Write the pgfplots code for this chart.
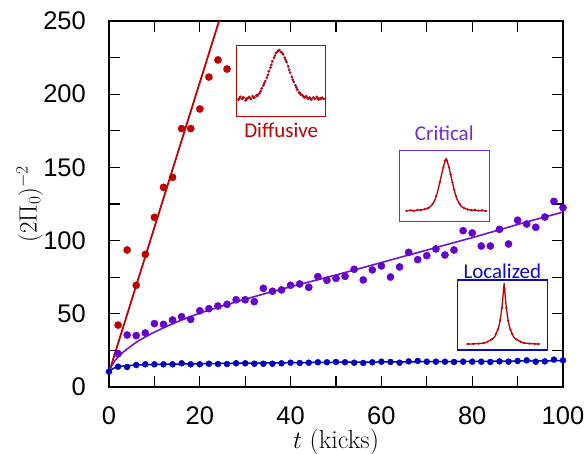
\documentclass[border=0pt]{standalone}
\usepackage{pgfplots}
\pgfplotsset{compat=1.18}
\usepackage{fontspec}
\newfontfamily\tickfont{Liberation Sans}
\newfontfamily\labfont{Carlito}
\definecolor{dred}{RGB}{192,0,0}
\definecolor{dpurp}{RGB}{102,0,204}
\definecolor{lpurp}{RGB}{110,20,210}
\definecolor{dblue}{RGB}{0,0,190}
\definecolor{boxpurp}{RGB}{120,40,210}
\definecolor{boxblue}{RGB}{10,10,200}
\definecolor{fitblue}{RGB}{150,160,230}
\begin{document}
\begin{tikzpicture}
\useasboundingbox (-109pt,-66pt) rectangle (476pt,387pt);
% main axis
\begin{axis}[at={(0pt,0pt)}, anchor=south west, scale only axis,
  width=454pt, height=366pt,
  xmin=0, xmax=100, ymin=0, ymax=250,
  xtick={0,10,...,100}, xticklabels={0,,20,,40,,60,,80,,100},
  ytick={0,25,...,250}, yticklabels={0,,50,,100,,150,,200,,250},
  tick align=inside, major tick length=11pt,
  tick style={black, line width=1.3pt},
  axis line style={line width=1.5pt},
  xticklabel style={font=\tickfont\fontsize{25.5}{28}\selectfont, inner sep=0pt, anchor=north, yshift=-19pt},
  yticklabel style={font=\tickfont\fontsize{25.5}{28}\selectfont, inner sep=0pt, anchor=east, xshift=-23pt},
  xlabel={$t$ (kicks)}, ylabel={$(2\Pi_0)^{-2}$},
  x label style={at={(axis description cs:0.5,0)}, anchor=north, inner sep=0pt, yshift=-42pt, font=\fontsize{26}{28}\selectfont},
  y label style={at={(axis description cs:-0.175,0.5)}, anchor=center, inner sep=0pt, font=\fontsize{27}{29}\selectfont},
]
\addplot[dred, line width=1.8pt] coordinates {(0,10) (26,267.4)};
\addplot[only marks, mark=*, mark size=3.6pt, color=dred] coordinates {
(2,42.3) (4,93.6) (6,69.5) (8,90.6) (10,115.9) (12,136.4) (14,143.2)
(16,176.5) (18,176.5) (20,189.9) (22,211.7) (24,223.4) (26,217.2)};
\addplot[lpurp, line width=1.6pt, line join=round] coordinates {
(0,10) (0.25,12.5) (0.5,14) (1,16.5) (1.5,18.7) (2,20.5) (3,23.5) (4,26) (5,28.3)
(6,30.5) (8,34.2) (10,37.5) (12,40.4) (15,44.5) (18,48.2) (20,50.5) (25,55.4)
(30,60) (35,64.3) (40,68.5) (45,72.5) (50,76.5) (55,80.8) (60,85) (65,89.3)
(70,93.5) (75,97.8) (80,102) (85,106.5) (90,111) (95,115.3) (100,119.5)};
\addplot[only marks, mark=*, mark size=3.6pt, color=dpurp] coordinates {
(2,22.8) (4,35.5) (6,35.1) (8,36.9) (10,43.3) (12,42.8) (14,45.8) (16,48.0)
(18,46.2) (20,52.1) (22,53.5) (24,55.3) (26,56.5) (28,59.6) (30,59.6) (32,58.3)
(34,67.4) (36,65.4) (38,66.3) (40,69.5) (42,70.4) (44,68.1) (46,75.4) (48,72.9)
(50,74.2) (52,75.6) (54,80.4) (56,73.1) (58,80.0) (60,82.7) (62,75.1) (64,82.0)
(66,92.0) (68,87.0) (70,89.7) (72,94.3) (74,90.2) (76,93.6) (78,106.8) (80,105.2)
(82,96.3) (84,96.3) (86,107.7) (88,97.7) (90,113.9) (92,111.3) (94,109.1)
(96,116.1) (98,126.8) (100,122.5)};
\addplot[dblue, line width=1.5pt, line join=round] coordinates {
(0,10.5) (0.5,11.8) (1,12.8) (1.5,13.4) (2,13.8) (3,14.3) (5,14.8) (7,15.1)
(10,15.4) (15,15.7) (20,15.9) (30,16.3) (40,16.6) (50,16.9) (60,17.1)
(70,17.3) (80,17.5) (90,17.75) (100,18.0)};
\addplot[only marks, mark=*, mark size=3.0pt, color=dblue] coordinates {
(0,10.5) (2,13.9) (4,13.7) (6,15.0) (8,15.5) (10,15.5) (12,15.5) (14,15.5) (16,16.2)
(18,15.5) (20,15.5) (22,15.9) (24,15.7) (26,15.7) (28,16.2) (30,16.2) (32,15.9)
(34,15.9) (36,15.9) (38,16.2) (40,16.6) (42,16.4) (44,16.6) (46,16.9) (48,16.9)
(50,17.1) (52,16.9) (54,16.6) (56,16.4) (58,16.9) (60,17.3) (62,17.1) (64,16.6)
(66,17.5) (68,17.8) (70,17.3) (72,17.3) (74,17.3) (76,17.1) (78,17.3) (80,17.3)
(82,17.3) (84,17.1) (86,17.5) (88,17.3) (90,17.8) (92,18.2) (94,17.3) (96,17.5)
(98,18.7) (100,18.2)};
\end{axis}
% Diffusive inset
\begin{axis}[at={(127.7pt,270.3pt)}, anchor=south west, scale only axis,
  width=89pt, height=71pt, xmin=0, xmax=1, ymin=0, ymax=1,
  xtick=\empty, ytick=\empty, clip=false,
  axis line style={draw=dred, line width=1.3pt}]
\addplot[fitblue, line width=1pt] coordinates {
(0.04,0.26) (0.08,0.261) (0.12,0.263) (0.16,0.27) (0.20,0.286) (0.24,0.322)
(0.28,0.388) (0.32,0.493) (0.36,0.629) (0.40,0.775) (0.44,0.887) (0.48,0.93)
(0.52,0.887) (0.56,0.775) (0.60,0.629) (0.64,0.493) (0.68,0.388) (0.72,0.322)
(0.76,0.286) (0.80,0.27) (0.84,0.263) (0.88,0.261) (0.92,0.26) (0.96,0.26)};
\addplot[only marks, mark=*, mark size=1.1pt, color=dred] coordinates {
(0.02,0.24) (0.04,0.28) (0.06,0.25) (0.08,0.27) (0.10,0.23) (0.12,0.26) (0.14,0.28)
(0.16,0.25) (0.18,0.29) (0.20,0.27) (0.22,0.30) (0.24,0.31) (0.26,0.33) (0.28,0.40)
(0.30,0.44) (0.32,0.50) (0.34,0.55) (0.36,0.64) (0.38,0.69) (0.40,0.78) (0.42,0.83)
(0.44,0.90) (0.46,0.92) (0.48,0.94) (0.50,0.91) (0.52,0.88) (0.54,0.83) (0.56,0.77)
(0.58,0.71) (0.60,0.62) (0.62,0.56) (0.64,0.49) (0.66,0.44) (0.68,0.38) (0.70,0.34)
(0.72,0.31) (0.74,0.30) (0.76,0.27) (0.78,0.29) (0.80,0.25) (0.82,0.27) (0.84,0.24)
(0.86,0.27) (0.88,0.25) (0.90,0.28) (0.92,0.24) (0.94,0.26) (0.96,0.27) (0.98,0.25)
(0.03,0.26) (0.07,0.27) (0.11,0.25) (0.15,0.26) (0.19,0.27) (0.23,0.29) (0.27,0.36)
(0.31,0.47) (0.35,0.59) (0.39,0.73) (0.43,0.86) (0.47,0.93) (0.51,0.90) (0.55,0.80)
(0.59,0.66) (0.63,0.52) (0.67,0.41) (0.71,0.33) (0.75,0.28) (0.79,0.27) (0.83,0.25)
(0.87,0.26) (0.91,0.26) (0.95,0.25)};
\node[font=\labfont\fontsize{21}{23}\selectfont, text=dred] at (rel axis cs:0.5,-0.19) {Diffusive};
\end{axis}
% Critical inset
\begin{axis}[at={(290.3pt,165.3pt)}, anchor=south west, scale only axis,
  width=90pt, height=71pt, xmin=0, xmax=1, ymin=0, ymax=1,
  xtick=\empty, ytick=\empty, clip=false,
  axis line style={draw=boxpurp, line width=1.3pt}]
\addplot[dred, line width=1.3pt, line join=round] coordinates {
(0.07,0.155) (0.10,0.157) (0.14,0.16) (0.18,0.158) (0.22,0.165) (0.26,0.17)
(0.30,0.18) (0.34,0.205) (0.36,0.23) (0.38,0.27) (0.40,0.32) (0.42,0.40)
(0.44,0.50) (0.46,0.61) (0.48,0.72) (0.50,0.82) (0.51,0.865) (0.52,0.89) (0.53,0.865) (0.54,0.82)
(0.56,0.72) (0.58,0.61) (0.60,0.50) (0.62,0.40) (0.64,0.32) (0.66,0.27)
(0.68,0.23) (0.70,0.205) (0.74,0.18) (0.78,0.168) (0.82,0.162) (0.86,0.16)
(0.90,0.157) (0.94,0.155) (0.97,0.155)};
\addplot[only marks, mark=*, mark size=0.9pt, color=dred] coordinates {
(0.08,0.15) (0.12,0.16) (0.16,0.15) (0.20,0.165) (0.24,0.16) (0.28,0.175)
(0.32,0.19) (0.37,0.25) (0.41,0.36) (0.45,0.555) (0.49,0.77) (0.51,0.86)
(0.53,0.86) (0.55,0.77) (0.57,0.665) (0.59,0.555) (0.61,0.45) (0.63,0.36)
(0.67,0.25) (0.72,0.19) (0.76,0.17) (0.80,0.16) (0.84,0.17) (0.88,0.155)
(0.92,0.162) (0.96,0.15)};
\node[font=\labfont\fontsize{21}{23}\selectfont, text=boxpurp] at (rel axis cs:0.5,1.25) {Critical};
\end{axis}
% Localized inset
\begin{axis}[at={(348.3pt,37pt)}, anchor=south west, scale only axis,
  width=90pt, height=70pt, xmin=0, xmax=1, ymin=0, ymax=1,
  xtick=\empty, ytick=\empty, clip=false,
  axis line style={draw=boxblue, line width=1.3pt}]
\addplot[dred, line width=1.3pt, line join=round] coordinates {
(0.10,0.086) (0.16,0.087) (0.22,0.09) (0.28,0.097) (0.32,0.11) (0.36,0.135)
(0.40,0.167) (0.42,0.20) (0.44,0.26) (0.46,0.33) (0.47,0.39) (0.48,0.46)
(0.49,0.55) (0.50,0.66) (0.51,0.80) (0.52,0.95) (0.53,0.80) (0.54,0.66)
(0.55,0.55) (0.56,0.46) (0.57,0.39) (0.58,0.33) (0.60,0.26) (0.62,0.20)
(0.64,0.167) (0.68,0.135) (0.72,0.11) (0.76,0.097) (0.82,0.09) (0.88,0.087) (0.92,0.086)};
\addplot[only marks, mark=*, mark size=0.9pt, color=dred] coordinates {
(0.12,0.086) (0.18,0.088) (0.24,0.092) (0.30,0.10) (0.34,0.12) (0.38,0.15)
(0.43,0.23) (0.45,0.29) (0.475,0.42) (0.495,0.60) (0.515,0.87) (0.525,0.87)
(0.545,0.60) (0.565,0.42) (0.59,0.29) (0.61,0.23) (0.66,0.15) (0.70,0.12)
(0.74,0.10) (0.80,0.092) (0.86,0.088) (0.90,0.086)};
\node[font=\labfont\fontsize{21}{23}\selectfont, text=boxblue] at (rel axis cs:0.5,1.13) {Localized};
\end{axis}
\end{tikzpicture}
\end{document}
